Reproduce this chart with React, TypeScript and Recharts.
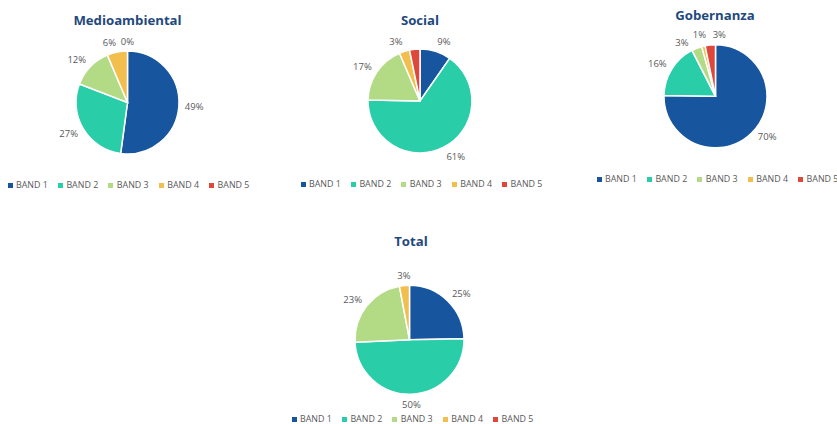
import { PieChart, Pie, Cell, Legend } from "recharts";

// Band names + palette shared by all four pies
const bands = ["BAND 1", "BAND 2", "BAND 3", "BAND 4", "BAND 5"];
const bandColors = ["#17569f", "#29cda7", "#b3db85", "#f2bf4f", "#e0473b"];

// Shares per pillar (as printed on the labels)
const medioValues = [49, 27, 12, 6, 0];
const socialValues = [9, 61, 17, 3, 3];
const gobValues = [70, 16, 3, 1, 3];
const totalValues = [25, 50, 23, 3, 0];

// Label texts — empty string = label not shown
const medioLabels = ["49%", "27%", "12%", "6%", "0%"];
const socialLabels = ["9%", "61%", "17%", "3%", ""];
const gobLabels = ["70%", "16%", "3%", "1%", "3%"];
const totalLabels = ["25%", "50%", "23%", "3%", ""];

const RAD = Math.PI / 180;
const FONT = "'Open Sans', 'Noto Sans', sans-serif";

interface PieBlockProps {
  title: string;
  values: number[];
  labels: string[];
  left: number;
  top: number;
  width: number;
  height: number;
  cx: number;
  cy: number;
  r: number;
  titleY: number;
  titleX: number;
  legendX: number;
  legendY: number;
  nudges?: Record<number, [number, number, string?]>;
}

function PieBlock(p: PieBlockProps) {
  const data = bands.map((name, i) => ({ name, value: p.values[i] }));

  const renderLabel = (props: any) => {
    const { cx, cy, midAngle, outerRadius, index } = props;
    const text = p.labels[index];
    if (!text) return null;
    const s = Math.cos(-midAngle * RAD);
    const c = Math.sin(-midAngle * RAD);
    let x = cx + (outerRadius + 6) * s;
    let y = cy + (outerRadius + 10) * c;
    let anchor = Math.abs(s) < 0.15 ? "middle" : s > 0 ? "start" : "end";
    const n = p.nudges?.[index];
    if (n) {
      x += n[0];
      y += n[1];
      if (n[2]) anchor = n[2];
    }
    return (
      <text
        key={`lbl-${index}`}
        x={x}
        y={y}
        textAnchor={anchor}
        dominantBaseline="central"
        fill="#595959"
        fontSize={9.5}
        fontFamily={FONT}
      >
        {text}
      </text>
    );
  };

  const renderLegend = () => (
    <div style={{ display: "flex", fontFamily: FONT, fontSize: 8.9, lineHeight: "10px", color: "#595959" }}>
      {bands.map((b, i) => (
        <div
          key={b}
          style={{ width: 50.4, flexShrink: 0, display: "flex", alignItems: "center", whiteSpace: "nowrap" }}
        >
          <span
            style={{
              display: "inline-block",
              width: 5,
              height: 5,
              background: bandColors[i],
              marginRight: 3.5,
            }}
          />
          {b}
        </div>
      ))}
    </div>
  );

  return (
    <div style={{ position: "absolute", left: p.left, top: p.top, width: p.width, height: p.height }}>
      <div
        style={{
          position: "absolute",
          left: p.titleX - p.left - 100,
          top: p.titleY - p.top - 10,
          width: 200,
          lineHeight: "20px",
          textAlign: "center",
          fontFamily: FONT,
          fontWeight: 700,
          fontSize: 13.2,
          color: "#1f497d",
        }}
      >
        {p.title}
      </div>
      <PieChart width={p.width} height={p.height} margin={{ top: 0, right: 0, bottom: 0, left: 0 }}>
        <Pie
          data={data}
          dataKey="value"
          nameKey="name"
          cx={p.cx - p.left}
          cy={p.cy - p.top}
          outerRadius={p.r}
          startAngle={90}
          endAngle={-270}
          stroke="#ffffff"
          strokeWidth={1.5}
          label={renderLabel}
          labelLine={false}
          isAnimationActive={false}
        >
          {data.map((d, i) => (
            <Cell key={d.name} fill={bandColors[i]} />
          ))}
        </Pie>
        <Legend
          content={renderLegend}
          wrapperStyle={{
            position: "absolute",
            left: p.legendX - p.left - 2.5,
            top: p.legendY - p.top - 4,
            width: 260,
          }}
        />
      </PieChart>
    </div>
  );
}

export default function App() {
  return (
    <div
      style={{
        position: "absolute",
        left: 0,
        top: 0,
        width: 837,
        height: 424,
        overflow: "hidden",
        background: "#fff",
      }}
    >
      <PieBlock
        title="Medioambiental"
        values={medioValues}
        labels={medioLabels}
        left={0}
        top={0}
        width={275}
        height={205}
        cx={127.5}
        cy={102.5}
        r={51.5}
        titleX={127.5}
        titleY={20}
        legendX={10}
        legendY={184}
      />
      <PieBlock
        title="Social"
        values={socialValues}
        labels={socialLabels}
        left={280}
        top={0}
        width={280}
        height={205}
        cx={420}
        cy={101}
        r={52}
        titleX={420}
        titleY={20}
        legendX={303}
        legendY={183}
      />
      <PieBlock
        title="Gobernanza"
        values={gobValues}
        labels={gobLabels}
        left={565}
        top={0}
        width={300}
        height={205}
        cx={715.5}
        cy={96.3}
        r={51.5}
        titleX={715}
        titleY={15}
        legendX={599}
        legendY={178}
        nudges={{ 0: [2, -4], 2: [-6, 4], 3: [4, -2], 4: [3, -1, "start"] }}
      />
      <PieBlock
        title="Total"
        values={totalValues}
        labels={totalLabels}
        left={280}
        top={215}
        width={280}
        height={209}
        cx={409.5}
        cy={339.7}
        r={54.5}
        titleX={411}
        titleY={241}
        legendX={294}
        legendY={418}
      />
    </div>
  );
}
